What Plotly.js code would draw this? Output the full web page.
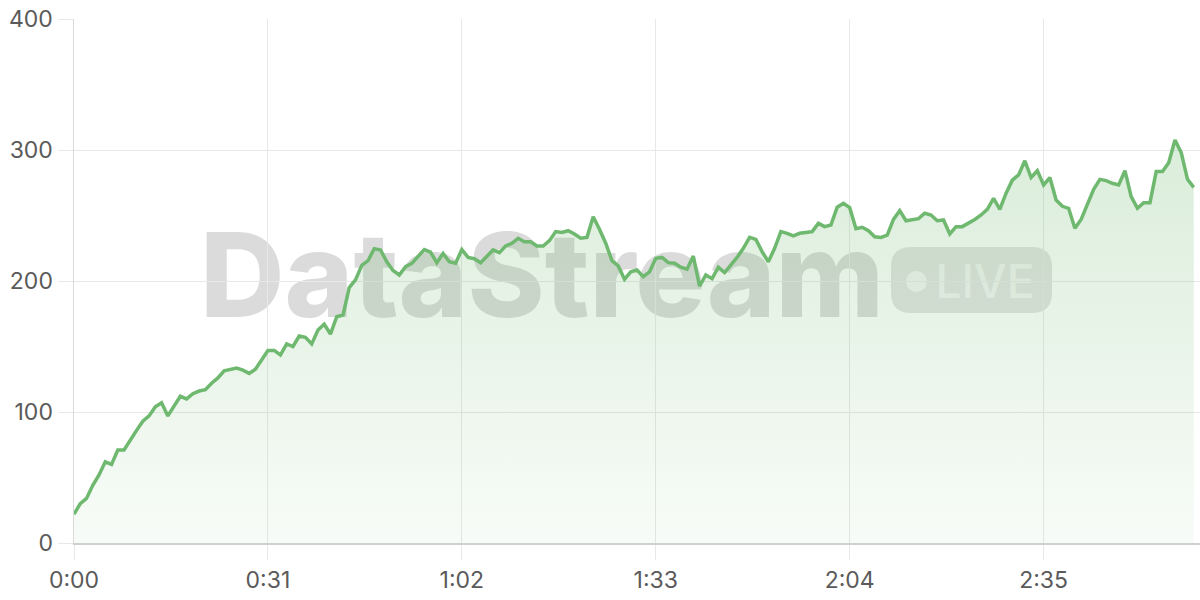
<!DOCTYPE html>
<html>
<head>
<meta charset="utf-8">
<script src="https://cdn.plot.ly/plotly-3.0.1.min.js"></script>
<style>
html,body{margin:0;padding:0;background:#fff;}
#chart{width:1200px;height:600px;}
</style>
</head>
<body>
<div id="chart"></div>
<script>
// ---- data (one value per second) ----
const viewers = [
  22, 30, 34, 44, 52, 62, 60, 71, 71, 79,
  86, 93, 97, 104, 107, 97, 105, 112, 110, 114,
  116, 117, 122, 126, 131.5, 132.6, 133.6, 132, 129.5, 132.6,
  140, 147, 147, 143.5, 152, 150, 158, 157, 152, 162.6,
  167, 159.5, 172.7, 174, 195, 200.8, 212, 215.5, 224.7, 223.7,
  214.7, 208, 204.6, 211, 213.5, 219, 224, 222, 214, 221,
  214.7, 213.5, 224, 218, 217, 214, 218.6, 223.7, 221.6, 226.7,
  228.8, 232.6, 230, 230, 226.7, 226.7, 230.8, 237.7, 237, 238.4,
  235.9, 232.6, 233.3, 249, 239.5, 228.8, 215.5, 211.5, 201.3, 207,
  208.4, 203.3, 207, 217.3, 218, 214, 213.5, 210.5, 209, 219,
  196, 204.6, 201.8, 210.5, 206.4, 212, 218, 225, 233.3, 231.8,
  222.4, 214.7, 225, 237.7, 236.4, 234.4, 236.4, 237, 237.7, 244,
  241.5, 242.7, 256.3, 259.3, 256, 240, 241, 238.4, 233.8, 233.3,
  235, 247, 253.7, 246, 246.6, 247.6, 251.7, 250.4, 246, 246.6,
  235.9, 241.5, 241.5, 244, 247, 250.4, 254.7, 263, 254.7, 267,
  277, 281, 291.8, 279, 284.2, 273.3, 279, 261.8, 257, 255.5,
  240.2, 247, 258, 270, 277.6, 276.6, 274.6, 273.3, 284.2, 264.4,
  255.5, 259.8, 259.8, 283.5, 283.5, 290.3, 307.6, 298, 277.6, 271.5
];
const tickSeconds = [0, 31, 62, 93, 124, 155];
const tickLabels = ['0:00', '0:31', '1:02', '1:33', '2:04', '2:35'];
const yTicks = [0, 100, 200, 300, 400];
const watermarkText = 'DataStream';
const badgeText = 'LIVE';

// ---- layout helpers (pixel -> paper) ----
const W = 1200, H = 600;
const M = {l: 74, r: 0, t: 19, b: 57};
const pw = W - M.l - M.r, ph = H - M.t - M.b;
const px = x => (x - M.l) / pw;
const py = y => (H - M.b - y) / ph;

function roundRect(x0, y0, x1, y1, r) {
  const X = px, Y = py;
  return `M${X(x0 + r)},${Y(y0)} L${X(x1 - r)},${Y(y0)} Q${X(x1)},${Y(y0)} ${X(x1)},${Y(y0 + r)} ` +
         `L${X(x1)},${Y(y1 - r)} Q${X(x1)},${Y(y1)} ${X(x1 - r)},${Y(y1)} ` +
         `L${X(x0 + r)},${Y(y1)} Q${X(x0)},${Y(y1)} ${X(x0)},${Y(y1 - r)} ` +
         `L${X(x0)},${Y(y0 + r)} Q${X(x0)},${Y(y0)} ${X(x0 + r)},${Y(y0)} Z`;
}

const seconds = viewers.map((_, i) => i);
const green = '#6fb86f';

const trace = {
  type: 'scatter',
  mode: 'lines',
  x: seconds,
  y: viewers,
  line: {color: green, width: 3.5},
  fill: 'tozeroy',
  fillgradient: {
    type: 'vertical',
    colorscale: [[0, 'rgba(109,183,109,0.05)'], [1, 'rgba(109,183,109,0.25)']]
  },
  hoverinfo: 'skip'
};

const axisFont = {family: 'Inter, "Open Sans", sans-serif', size: 23, color: '#5a5a5a'};

const layout = {
  width: W, height: H,
  margin: M,
  paper_bgcolor: '#ffffff',
  plot_bgcolor: '#ffffff',
  showlegend: false,
  xaxis: {
    range: [0, 180],
    tickmode: 'array',
    tickvals: tickSeconds,
    ticktext: tickLabels,
    showgrid: true, gridcolor: '#e8e8e8', gridwidth: 1,
    ticks: 'outside', ticklen: 15, tickcolor: '#e8e8e8', tickwidth: 1,
    showline: true, linecolor: '#d0d0d0', linewidth: 2,
    zeroline: false,
    tickfont: axisFont,
    fixedrange: true
  },
  yaxis: {
    range: [0, 400],
    tickmode: 'array',
    tickvals: yTicks,
    showgrid: true, gridcolor: '#e8e8e8', gridwidth: 1,
    ticks: 'outside', ticklen: 15, tickcolor: '#e8e8e8', tickwidth: 1,
    showline: true, linecolor: '#dadada', linewidth: 1.5,
    zeroline: false,
    tickfont: axisFont,
    fixedrange: true
  },
  shapes: [
    {
      type: 'rect', xref: 'paper', yref: 'paper', layer: 'below',
      x0: px(150), x1: px(934), y0: py(330), y1: py(210),
      line: {width: 0}, fillcolor: 'rgba(0,0,0,0)',
      label: {
        text: watermarkText,
        textposition: 'middle center',
        font: {family: 'Inter, "Open Sans", sans-serif', size: 117, color: 'rgba(0,0,0,0.14)', weight: 800}
      }
    },
    {
      type: 'path', xref: 'paper', yref: 'paper', layer: 'below',
      path: roundRect(891, 247, 1052, 313, 20),
      line: {width: 0}, fillcolor: 'rgba(0,0,0,0.11)'
    },
    {
      type: 'circle', xref: 'paper', yref: 'paper', layer: 'below',
      x0: px(906), x1: px(927), y0: py(292), y1: py(271),
      line: {width: 0}, fillcolor: 'rgba(255,255,255,0.6)'
    },
    {
      type: 'rect', xref: 'paper', yref: 'paper', layer: 'below',
      x0: px(936), x1: px(1034), y0: py(300), y1: py(260),
      line: {width: 0}, fillcolor: 'rgba(0,0,0,0)',
      label: {
        text: badgeText,
        textposition: 'middle center',
        font: {family: 'Inter, "Open Sans", sans-serif', size: 46, color: 'rgba(255,255,255,0.6)', weight: 500}
      }
    }
  ]
};

Plotly.newPlot('chart', [trace], layout, {staticPlot: true, displayModeBar: false});
</script>
</body>
</html>
